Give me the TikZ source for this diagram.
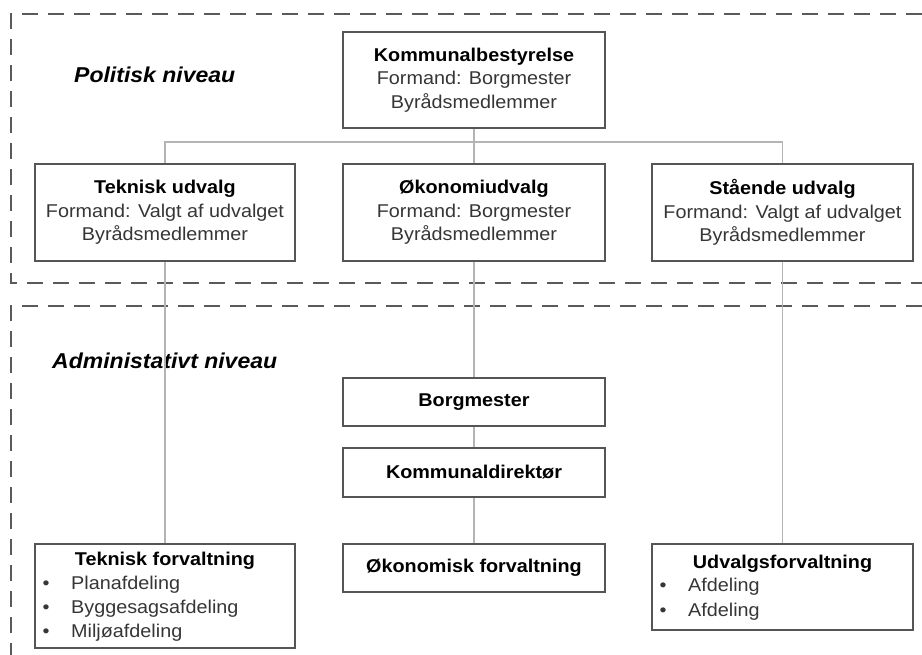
\documentclass[tikz,border=0pt]{standalone}
\usepackage{fontspec}
\setmainfont[FakeStretch=1.07]{Liberation Sans}
\definecolor{boxline}{HTML}{555555}
\definecolor{linkgray}{HTML}{B4B4B4}
\definecolor{dashgray}{HTML}{5A5A5A}
\definecolor{txtgray}{HTML}{363636}
\newcommand\boxtitle[1]{\textcolor{black}{\bfseries #1}}
\begin{document}
\begin{tikzpicture}[x=1pt,y=-1pt,
  box/.style={draw=boxline,line width=1.5pt,fill=white,inner sep=0pt,align=center,
    font=\fontsize{18.5}{23.5}\selectfont,text=txtgray},
  txt/.style={inner sep=0pt,font=\fontsize{18.5}{23.5}\selectfont,text=txtgray},
  link/.style={draw=linkgray,line width=1.3pt},
  region/.style={draw=dashgray,line width=2pt,dash pattern=on 16pt off 10pt},
  level/.style={font=\fontsize{21.5}{26}\selectfont\bfseries\itshape,anchor=base west,inner sep=0pt}]
\useasboundingbox (0,0) rectangle (922,655);
% regions
\draw[region] (922,14) -- (11,14) -- (11,283) -- (922,283);
\draw[region] (922,306) -- (11,306) -- (11,655);
\node[level] (pol) at (74,83) {Politisk niveau};
\node[level] (adm) at (52,368) {Administativt niveau};
% boxes
\node[box,minimum width=262pt,minimum height=96pt] (kb) at (474,80)
  {\boxtitle{Kommunalbestyrelse}\\Formand: Borgmester\\Byrådsmedlemmer};
\node[box,minimum width=260pt,minimum height=97pt] (tu) at (165,212.5)
  {\boxtitle{Teknisk udvalg}\\Formand: Valgt af udvalget\\Byrådsmedlemmer};
\node[box,minimum width=262pt,minimum height=97pt] (ou) at (474,212.5)
  {\boxtitle{Økonomiudvalg}\\Formand: Borgmester\\Byrådsmedlemmer};
\node[box,minimum width=261pt,minimum height=97pt] (su) at (782.5,212.5)
  {\boxtitle{Stående udvalg}\\Formand: Valgt af udvalget\\Byrådsmedlemmer};
\node[box,minimum width=262pt,minimum height=48pt] (bm) at (474,402) {\boxtitle{Borgmester}};
\node[box,minimum width=262pt,minimum height=49pt] (kd) at (474,472.5) {\boxtitle{Kommunaldirektør}};
\node[box,minimum width=262pt,minimum height=48pt] (of) at (474,568) {\boxtitle{Økonomisk forvaltning}};
\node[box,minimum width=260pt,minimum height=104pt] (tf) at (165,596) {};
\node[box,minimum width=261pt,minimum height=86pt] (uf) at (782.5,587) {};
% list contents
\node[txt,anchor=base] (tft) at (165,565.5) {\boxtitle{Teknisk forvaltning}};
\node[txt,anchor=base] (tfb1) at (46,589.5) {•};
\node[txt,anchor=base west] (tfl1) at (71,589.5) {Planafdeling};
\node[txt,anchor=base] (tfb2) at (46,613.5) {•};
\node[txt,anchor=base west] (tfl2) at (71,613.5) {Byggesagsafdeling};
\node[txt,anchor=base] (tfb3) at (46,637.5) {•};
\node[txt,anchor=base west] (tfl3) at (71,637.5) {Miljøafdeling};
\node[txt,anchor=base] (uft) at (782.5,568.5) {\boxtitle{Udvalgsforvaltning}};
\node[txt,anchor=base] (ufb1) at (663,591.5) {•};
\node[txt,anchor=base west] (ufl1) at (688,591.5) {Afdeling};
\node[txt,anchor=base] (ufb2) at (663,616.5) {•};
\node[txt,anchor=base west] (ufl2) at (688,616.5) {Afdeling};
% connectors
\coordinate (j) at (474,142);
\draw[link] (kb.south) -- (ou.north);
\draw[link] (tu.north) |- (j) -| (su.north);
\draw[link] (tu.south) -- (tf.north);
\draw[link] (ou.south) -- (bm.north);
\draw[link] (bm.south) -- (kd.north);
\draw[link] (kd.south) -- (of.north);
\draw[link] (su.south) -- (uf.north);
\end{tikzpicture}
\end{document}
